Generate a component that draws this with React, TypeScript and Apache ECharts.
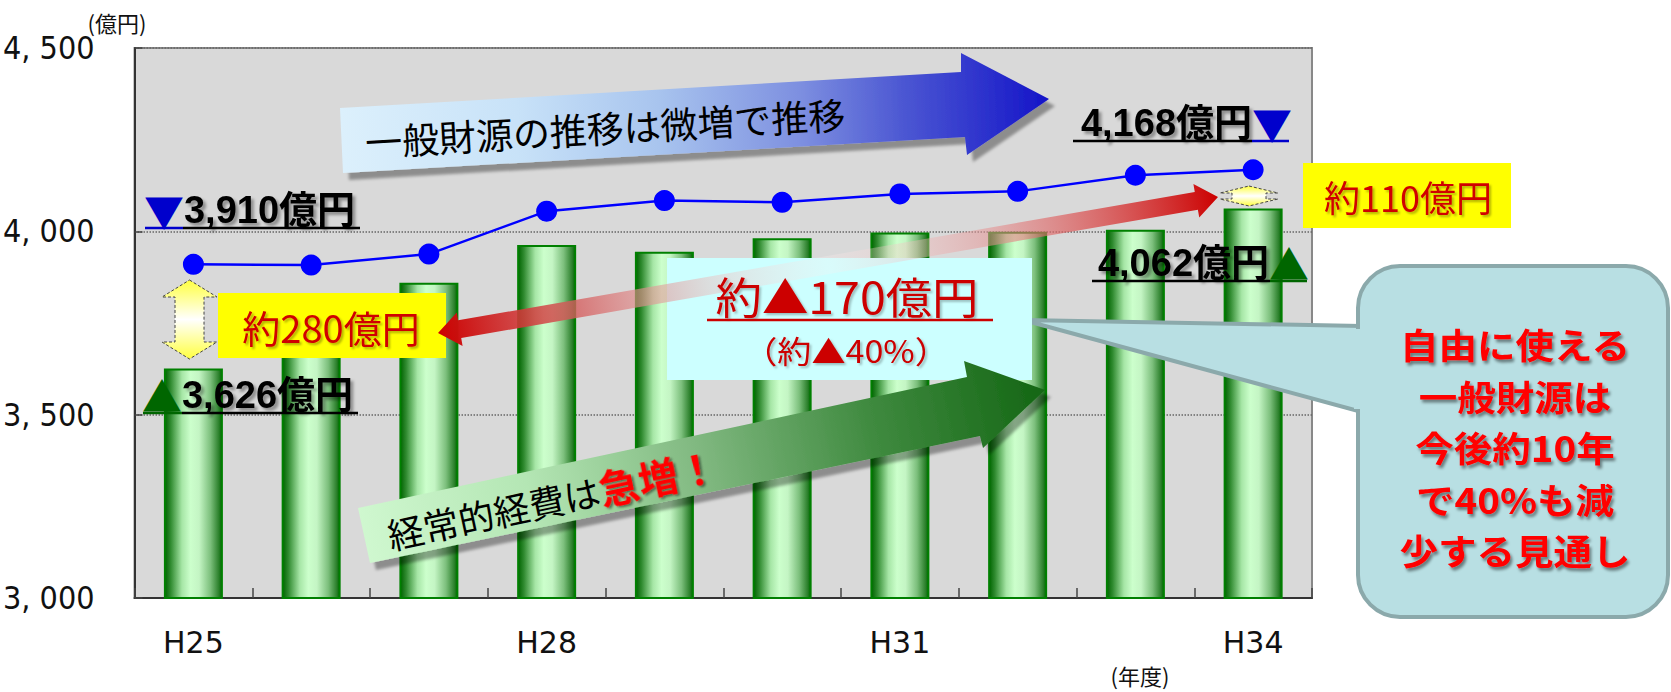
import React, { useEffect, useRef } from 'react';
import * as echarts from 'echarts';

const categories = ['H25', 'H26', 'H27', 'H28', 'H29', 'H30', 'H31', 'H32', 'H33', 'H34'];
const expenseValues = [3626, 3700, 3860, 3963, 3944, 3981, 3997, 3999, 4004, 4062];
const revenueValues = [3910, 3908, 3938, 4055, 4084, 4079, 4102, 4109, 4153, 4168];
const yTickValues = [3000, 3500, 4000, 4500];
const yTickLabels = ['3, 000', '3, 500', '4, 000', '4, 500'];
const yUnit = '(億円)';
const xUnit = '(年度)';
const gapStart = '約280億円';
const gapEnd = '約110億円';
const decreaseMain = '約▲170億円';
const decreaseSub = '（約▲40%）';
const trendRevenue = '一般財源の推移は微増で推移';
const trendExpenseA = '経常的経費は';
const trendExpenseB = '急増！';
const calloutLines = ['自由に使える', '一般財源は', '今後約10年', 'で40%も減', '少する見通し'];

const JP = "'Noto Sans CJK JP', sans-serif";
const LATJP = "'Liberation Sans', 'Noto Sans CJK JP', sans-serif";
const fmt = (v: number) => v.toLocaleString('en-US') + '億円';

function dblArrow(x1: number, y1: number, x2: number, y2: number, sw: number, hw: number, hl: number) {
  const dx = x2 - x1, dy = y2 - y1;
  const L = Math.hypot(dx, dy);
  const ux = dx / L, uy = dy / L, nx = -uy, ny = ux;
  const P = (t: number, n: number) => [x1 + ux * t + nx * n, y1 + uy * t + ny * n];
  return [P(0, 0), P(hl, hw), P(hl, sw), P(L - hl, sw), P(L - hl, hw), P(L, 0), P(L - hl, -hw), P(L - hl, -sw), P(hl, -sw), P(hl, -hw)];
}

function vArrow(cx: number, top: number, bottom: number, hw: number, sw: number, hl: number) {
  return [
    [cx, top], [cx + hw, top + hl], [cx + sw, top + hl], [cx + sw, bottom - hl], [cx + hw, bottom - hl],
    [cx, bottom], [cx - hw, bottom - hl], [cx - sw, bottom - hl], [cx - sw, top + hl], [cx - hw, top + hl],
  ];
}

const yellowFill = {
  type: 'linear', x: 0, y: 0, x2: 0, y2: 1,
  colorStops: [{ offset: 0, color: '#ffff40' }, { offset: 0.5, color: '#ffffff' }, { offset: 1, color: '#ffff40' }],
};

function numLabel(x: number, y: number, align: string, tri: string, triColor: string, num: string) {
  return {
    type: 'text', z: 15, x, y,
    style: {
      text: align === 'left' ? `{t|${tri}}{n|${num}}` : `{n|${num}}{t|${tri}}`,
      align, verticalAlign: 'middle',
      rich: {
        t: { fontSize: 40, fill: triColor, fontFamily: JP },
        n: {
          fontSize: 38, fontWeight: 'bold', fill: '#000', fontFamily: LATJP,
          textShadowColor: 'rgba(0,0,0,0.35)', textShadowOffsetX: 3, textShadowOffsetY: 3, textShadowBlur: 3,
        },
      },
    },
  };
}

function uline(x1: number, x2: number, y: number, color: string) {
  return { type: 'line', z: 15, shape: { x1, y1: y, x2, y2: y }, style: { stroke: color, lineWidth: 2.5 } };
}

const arrowShadow = { shadowBlur: 3, shadowColor: 'rgba(0,0,0,0.35)', shadowOffsetX: 6, shadowOffsetY: 7 };

const calloutText = calloutLines.map((line, i) => ({
  type: 'text', z: 10, x: 1515, y: 344 + i * 51.5, scaleX: 1.1,
  style: {
    text: line, fontSize: 35, fontWeight: 'bold', fontFamily: JP, fill: '#ff0000',
    align: 'center', verticalAlign: 'middle',
    textShadowColor: 'rgba(0,0,0,0.45)', textShadowOffsetX: 2, textShadowOffsetY: 3, textShadowBlur: 3,
  },
}));

const graphics: any[] = [
  // axis units
  { type: 'text', z: 15, x: 117, y: 22, style: { text: yUnit, fontSize: 22, fontFamily: JP, fill: '#111', align: 'center', verticalAlign: 'middle' } },
  { type: 'text', z: 15, x: 1140, y: 675, style: { text: xUnit, fontSize: 22, fontFamily: JP, fill: '#111', align: 'center', verticalAlign: 'middle' } },

  // callout bubble
  { type: 'polygon', z: 10, shape: { points: [[1362, 326], [1023, 320], [1362, 412]] }, style: { fill: '#b8dfe3', stroke: '#8ba9ab', lineWidth: 4, lineJoin: 'round' } },
  { type: 'rect', z: 10, shape: { x: 1358, y: 266, width: 310, height: 351, r: 42 }, style: { fill: '#b8dfe3', stroke: '#8ba9ab', lineWidth: 4 } },
  { type: 'rect', z: 10, shape: { x: 1354, y: 329, width: 10, height: 80 }, style: { fill: '#b8dfe3' } },
  ...calloutText,

  // cyan box
  { type: 'rect', z: 11, shape: { x: 667, y: 258, width: 365, height: 122 }, style: { fill: '#ccffff' } },
  { type: 'text', z: 14, x: 847, y: 295, scaleX: 1.08, style: { text: decreaseMain, fontSize: 43, fontFamily: JP, fill: '#cc0000', align: 'center', verticalAlign: 'middle', textShadowColor: 'rgba(0,0,0,0.25)', textShadowOffsetX: 2, textShadowOffsetY: 2, textShadowBlur: 2 } },
  { type: 'line', z: 14, shape: { x1: 707, y1: 320, x2: 993, y2: 320 }, style: { stroke: '#cc0000', lineWidth: 2.5 } },
  { type: 'text', z: 14, x: 846, y: 349, scaleX: 1.1, style: { text: decreaseSub, fontSize: 31, fontFamily: JP, fill: '#cc0000', align: 'center', verticalAlign: 'middle', textShadowColor: 'rgba(0,0,0,0.25)', textShadowOffsetX: 2, textShadowOffsetY: 2, textShadowBlur: 2 } },

  // yellow boxes
  { type: 'rect', z: 11, shape: { x: 218, y: 293, width: 228, height: 65 }, style: { fill: '#ffff00' } },
  { type: 'text', z: 14, x: 331, y: 326, style: { text: gapStart, fontSize: 38, fontFamily: JP, fill: '#d00000', align: 'center', verticalAlign: 'middle', textShadowColor: 'rgba(0,0,0,0.3)', textShadowOffsetX: 2, textShadowOffsetY: 2, textShadowBlur: 2 } },
  { type: 'rect', z: 11, shape: { x: 1303, y: 163, width: 208, height: 65 }, style: { fill: '#ffff00' } },
  { type: 'text', z: 14, x: 1408, y: 196, style: { text: gapEnd, fontSize: 36, fontFamily: JP, fill: '#d00000', align: 'center', verticalAlign: 'middle', textShadowColor: 'rgba(0,0,0,0.3)', textShadowOffsetX: 2, textShadowOffsetY: 2, textShadowBlur: 2 } },

  // yellow double arrows
  { type: 'polygon', z: 12, shape: { points: vArrow(189.5, 280, 359, 27.5, 14.5, 17) }, style: { fill: yellowFill, stroke: '#444', lineWidth: 1, lineDash: [3, 2] } },
  { type: 'polygon', z: 12, shape: { points: vArrow(1249, 186, 206, 29, 17, 7) }, style: { fill: yellowFill, stroke: '#444', lineWidth: 1, lineDash: [3, 2] } },

  // red double arrow
  {
    type: 'polygon', z: 12, shape: { points: dblArrow(438, 333, 1218, 197, 9, 17, 22) },
    style: {
      fill: {
        type: 'linear', x: 438, y: 333, x2: 1218, y2: 197, global: true,
        colorStops: [
          { offset: 0, color: 'rgba(204,0,0,1)' },
          { offset: 0.15, color: 'rgba(210,80,80,0.85)' },
          { offset: 0.35, color: 'rgba(235,190,190,0.5)' },
          { offset: 0.5, color: 'rgba(255,240,240,0.25)' },
          { offset: 0.7, color: 'rgba(230,150,150,0.55)' },
          { offset: 1, color: 'rgba(204,0,0,1)' },
        ],
      },
    },
  },

  // green arrow
  {
    type: 'polygon', z: 13,
    shape: { points: [[358, 508], [967, 377], [964, 361], [1045, 390], [983, 448], [980, 436], [370, 563]] },
    style: {
      ...arrowShadow,
      fill: {
        type: 'linear', x: 358, y: 535, x2: 1045, y2: 390, global: true,
        colorStops: [
          { offset: 0, color: '#d0f8d0' }, { offset: 0.25, color: '#b4e6b4' }, { offset: 0.5, color: '#80b880' },
          { offset: 0.75, color: '#3f8a3f' }, { offset: 1, color: '#146614' },
        ],
      },
    },
  },
  {
    type: 'text', z: 14, x: 552, y: 499, rotation: 0.212,
    style: {
      text: `{a|${trendExpenseA}}{b|${trendExpenseB}}`, align: 'center', verticalAlign: 'middle',
      rich: {
        a: { fontSize: 36, fill: '#000', fontFamily: JP },
        b: { fontSize: 40, fill: '#ff0000', fontWeight: 'bold', fontFamily: JP, textShadowColor: 'rgba(0,0,0,0.45)', textShadowOffsetX: 2, textShadowOffsetY: 2, textShadowBlur: 2 },
      },
    },
  },

  // blue arrow
  {
    type: 'polygon', z: 13,
    shape: { points: [[340, 108], [961, 72], [961, 53], [1049, 99], [967, 155], [965, 137], [343, 173]] },
    style: {
      ...arrowShadow,
      fill: {
        type: 'linear', x: 340, y: 130, x2: 1049, y2: 100, global: true,
        colorStops: [
          { offset: 0, color: '#dcf0fc' }, { offset: 0.25, color: '#c8e2f8' }, { offset: 0.45, color: '#a8c4ee' },
          { offset: 0.65, color: '#7d8fe0' }, { offset: 0.8, color: '#4a55d2' }, { offset: 1, color: '#1414c8' },
        ],
      },
    },
  },
  { type: 'text', z: 14, x: 605, y: 127, rotation: 0.058, style: { text: trendRevenue, fontSize: 37, fontFamily: JP, fill: '#000', align: 'center', verticalAlign: 'middle' } },

  // value labels
  numLabel(144, 210, 'left', '▼', '#0000cc', fmt(revenueValues[0])),
  uline(145, 183, 228, '#0000cc'), uline(183, 360, 228, '#000'),
  numLabel(142, 395, 'left', '▲', '#006600', fmt(expenseValues[0])),
  uline(143, 182, 413, '#006600'), uline(182, 358, 413, '#000'),
  numLabel(1292, 123, 'right', '▼', '#0000cc', fmt(revenueValues[revenueValues.length - 1])),
  uline(1073, 1252, 141, '#000'), uline(1252, 1289, 141, '#0000cc'),
  numLabel(1309, 263, 'right', '▲', '#006600', fmt(expenseValues[expenseValues.length - 1])),
  uline(1092, 1270, 281, '#000'), uline(1270, 1307, 281, '#006600'),
];

const option: any = {
  animation: false,
  backgroundColor: '#ffffff',
  grid: {
    left: 128, top: 48, width: 1184, height: 550,
    show: true, backgroundColor: '#d9d9d9', borderColor: '#888888', borderWidth: 2,
  },
  xAxis: {
    type: 'category',
    data: categories,
    boundaryGap: true,
    axisLine: { show: true, lineStyle: { color: '#333', width: 2 } },
    axisTick: { show: true, inside: true, length: 10, interval: 0, lineStyle: { color: '#444', width: 1.5 } },
    axisLabel: { interval: 2, margin: 29, fontSize: 30, fontFamily: "'DejaVu Sans', sans-serif", color: '#111' },
    splitLine: { show: false },
  },
  yAxis: {
    type: 'value',
    min: 3000, max: 4500, interval: 500,
    axisLine: { show: true, lineStyle: { color: '#333', width: 2 } },
    axisTick: { show: true, inside: true, length: 8, lineStyle: { color: '#444', width: 1.5 } },
    axisLabel: {
      margin: 40, fontSize: 32, color: '#111',
      fontFamily: "'Liberation Sans Narrow', 'DejaVu Sans Condensed', 'Liberation Sans', sans-serif",
      formatter: (v: number) => yTickLabels[yTickValues.indexOf(v)] ?? String(v),
    },
    splitLine: { show: true, lineStyle: { color: '#666', width: 1.5, type: 'dotted' } },
  },
  series: [
    {
      type: 'bar',
      data: expenseValues,
      barWidth: 59,
      itemStyle: {
        borderColor: '#008000', borderWidth: 2,
        color: {
          type: 'linear', x: 0, y: 0, x2: 1, y2: 0,
          colorStops: [
            { offset: 0, color: '#006400' }, { offset: 0.1, color: '#2f8a2f' }, { offset: 0.3, color: '#a6e6a6' },
            { offset: 0.45, color: '#ccffcc' }, { offset: 0.6, color: '#c4f5c4' }, { offset: 0.8, color: '#7cbf7c' },
            { offset: 0.95, color: '#2a7f2a' }, { offset: 1, color: '#006600' },
          ],
        },
      },
      z: 2,
    },
    {
      type: 'line',
      data: revenueValues,
      symbol: 'circle',
      symbolSize: 21,
      lineStyle: { color: '#0000ff', width: 2.5 },
      itemStyle: { color: '#0000ff' },
      z: 3,
    },
  ],
  graphic: { elements: graphics },
};

export default function App() {
  const ref = useRef<HTMLDivElement>(null);
  useEffect(() => {
    const chart = echarts.init(ref.current!, null, { renderer: 'svg' });
    chart.setOption(option);
    return () => chart.dispose();
  }, []);
  return <div ref={ref} style={{ position: 'absolute', left: 0, top: 0, width: 1671, height: 692 }} />;
}
